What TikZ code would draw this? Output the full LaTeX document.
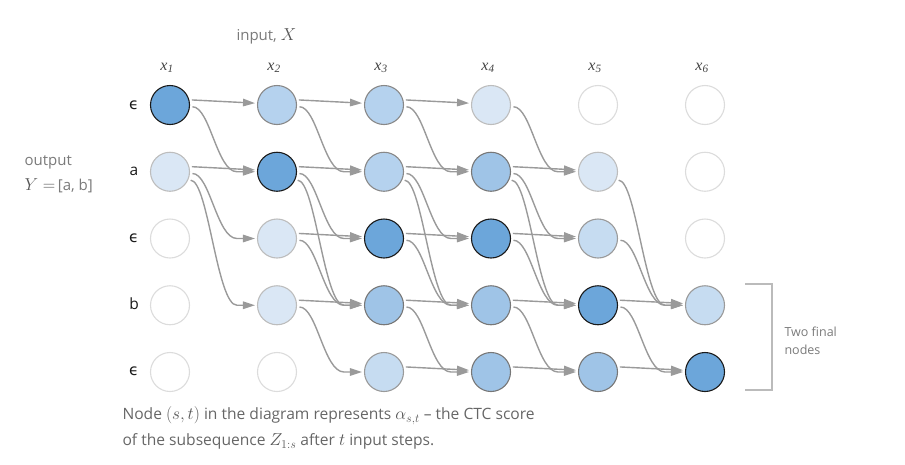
\documentclass[tikz,border=0pt]{standalone}
\usepackage[no-math]{fontspec}
\setmainfont{Open Sans}
\newfontfamily\dejavu{DejaVu Sans}
\newfontfamily\timesf{Liberation Serif}
\usetikzlibrary{arrows.meta}
\definecolor{fA}{HTML}{6CA6DA}
\definecolor{fB}{HTML}{9FC4E7}
\definecolor{fC}{HTML}{B5D2EE}
\definecolor{fD}{HTML}{C6DCF1}
\definecolor{fE}{HTML}{DAE7F5}
\definecolor{bA}{HTML}{1A1A1A}
\definecolor{bB}{HTML}{777777}
\definecolor{bC}{HTML}{888888}
\definecolor{bD}{HTML}{9A9A9A}
\definecolor{bE}{HTML}{BDBDBD}
\definecolor{bF}{HTML}{DCDCDC}
\definecolor{edgec}{HTML}{9A9A9A}
\definecolor{txtgrey}{HTML}{7A7A7A}
\definecolor{capgrey}{HTML}{666666}
\definecolor{mathc}{HTML}{555555}
\definecolor{xlab}{HTML}{444444}
\definecolor{brkc}{HTML}{BBBBBB}
\newcommand\mth[1]{{\fontsize{18}{20}\selectfont\color{mathc}$#1$}}
\newcommand\nd[3]{\node[#3] (n#1#2) at ({170+107*(#2-1)},{105+66.75*#1}) {};}
\newcommand\eh[2]{\draw[edge] (n#1.15) -- (n#2.175);}
\newcommand\ed[3]{\draw[edge] (n#1.#3) to[out=0,in=180,distance=20pt] ([xshift=-20pt]n#2.west) -- (n#2.west);}
\tikzset{
  nd/.style={circle, minimum size=39pt, inner sep=0pt, line width=1.1pt},
  lvA/.style={nd, fill=fA, draw=bA},
  lvB/.style={nd, fill=fB, draw=bB},
  lvC/.style={nd, fill=fC, draw=bC},
  lvD/.style={nd, fill=fD, draw=bD},
  lvE/.style={nd, fill=fE, draw=bE},
  lvF/.style={nd, fill=white, draw=bF},
  edge/.style={draw=edgec, line width=1.4pt, shorten <=2.5pt, shorten >=2pt,
    -{Triangle[length=12pt,width=7.5pt]}},
  rowlbl/.style={font=\fontsize{15.5}{18}\selectfont, text=black!90},
  epslbl/.style={font=\dejavu\fontsize{15.5}{18}\selectfont, text=black!90},
  xlbl/.style={font=\timesf\itshape\fontsize{16}{18}\selectfont, text=xlab},
  brk/.style={draw=brkc, line width=1.1pt},
}
\begin{document}
\begin{tikzpicture}[x=1pt,y=-1pt]
\useasboundingbox (0,0) rectangle (905,464);
% nodes
\nd01{lvA}\nd11{lvE}\nd21{lvF}\nd31{lvF}\nd41{lvF}
\nd02{lvC}\nd12{lvA}\nd22{lvE}\nd32{lvE}\nd42{lvF}
\nd03{lvC}\nd13{lvC}\nd23{lvA}\nd33{lvB}\nd43{lvD}
\nd04{lvE}\nd14{lvB}\nd24{lvA}\nd34{lvB}\nd44{lvB}
\nd05{lvF}\nd15{lvE}\nd25{lvD}\nd35{lvA}\nd45{lvB}
\nd06{lvF}\nd16{lvF}\nd26{lvF}\nd36{lvD}\nd46{lvA}
% edges col1
\eh{01}{02}\ed{01}{12}{-5}
\eh{11}{12}\ed{11}{22}{-5}\ed{11}{32}{-25}
% col2
\eh{02}{03}\ed{02}{13}{-5}
\eh{12}{13}\ed{12}{23}{-5}\ed{12}{33}{-25}
\eh{22}{23}\ed{22}{33}{-5}
\eh{32}{33}\ed{32}{43}{-5}
% col3
\eh{03}{04}\ed{03}{14}{-5}
\eh{13}{14}\ed{13}{24}{-5}\ed{13}{34}{-25}
\eh{23}{24}\ed{23}{34}{-5}
\eh{33}{34}\ed{33}{44}{-5}
\eh{43}{44}
% col4
\ed{04}{15}{-5}
\eh{14}{15}\ed{14}{25}{-5}\ed{14}{35}{-25}
\eh{24}{25}\ed{24}{35}{-5}
\eh{34}{35}\ed{34}{45}{-5}
\eh{44}{45}
% col5
\ed{15}{36}{-25}
\ed{25}{36}{-5}
\eh{35}{36}\ed{35}{46}{-5}
\eh{45}{46}
% top labels
\node[anchor=west, text=txtgrey, font=\fontsize{15}{18}\selectfont] (inp) at (233,36) {input, \mth{X}};
\node[xlbl] (x1) at (167,68) {x\textsubscript{1}};
\node[xlbl] (x2) at (274,68) {x\textsubscript{2}};
\node[xlbl] (x3) at (381,68) {x\textsubscript{3}};
\node[xlbl] (x4) at (488,68) {x\textsubscript{4}};
\node[xlbl] (x5) at (595,68) {x\textsubscript{5}};
\node[xlbl] (x6) at (702,68) {x\textsubscript{6}};
% row labels
\node[epslbl] (r0) at (134,105) {ϵ};
\node[rowlbl] (r1) at (134,171) {a};
\node[epslbl] (r2) at (134,238) {ϵ};
\node[rowlbl] (r3) at (134,304) {b};
\node[epslbl] (r4) at (134,371) {ϵ};
% output label
\node[anchor=west, text=txtgrey, font=\fontsize{15}{18}\selectfont] (outl) at (21,162) {output};
\node[anchor=west, text=txtgrey, font=\fontsize{15}{18}\selectfont] (outy) at (21,186) {\mth{Y=}\,[a, b]};
% bracket
\coordinate (bt) at (745,284);
\coordinate (bb) at (745,390);
\draw[brk] (bt) -- (772,284) -- (772,390) -- (bb);
\node[anchor=west, align=left, text=txtgrey, font=\fontsize{12.5}{18}\selectfont] (tf) at (781,341) {Two final\\nodes};
% caption
\node[anchor=north west, align=left, text=capgrey, font=\fontsize{15.6}{26}\selectfont] (cap) at (119,403)
  {Node \mth{(s,t)} in the diagram represents \mth{\alpha_{s,t}} – the CTC score\\
   of the subsequence \mth{Z_{1:s}} after \mth{t} input steps.};
\end{tikzpicture}
\end{document}
